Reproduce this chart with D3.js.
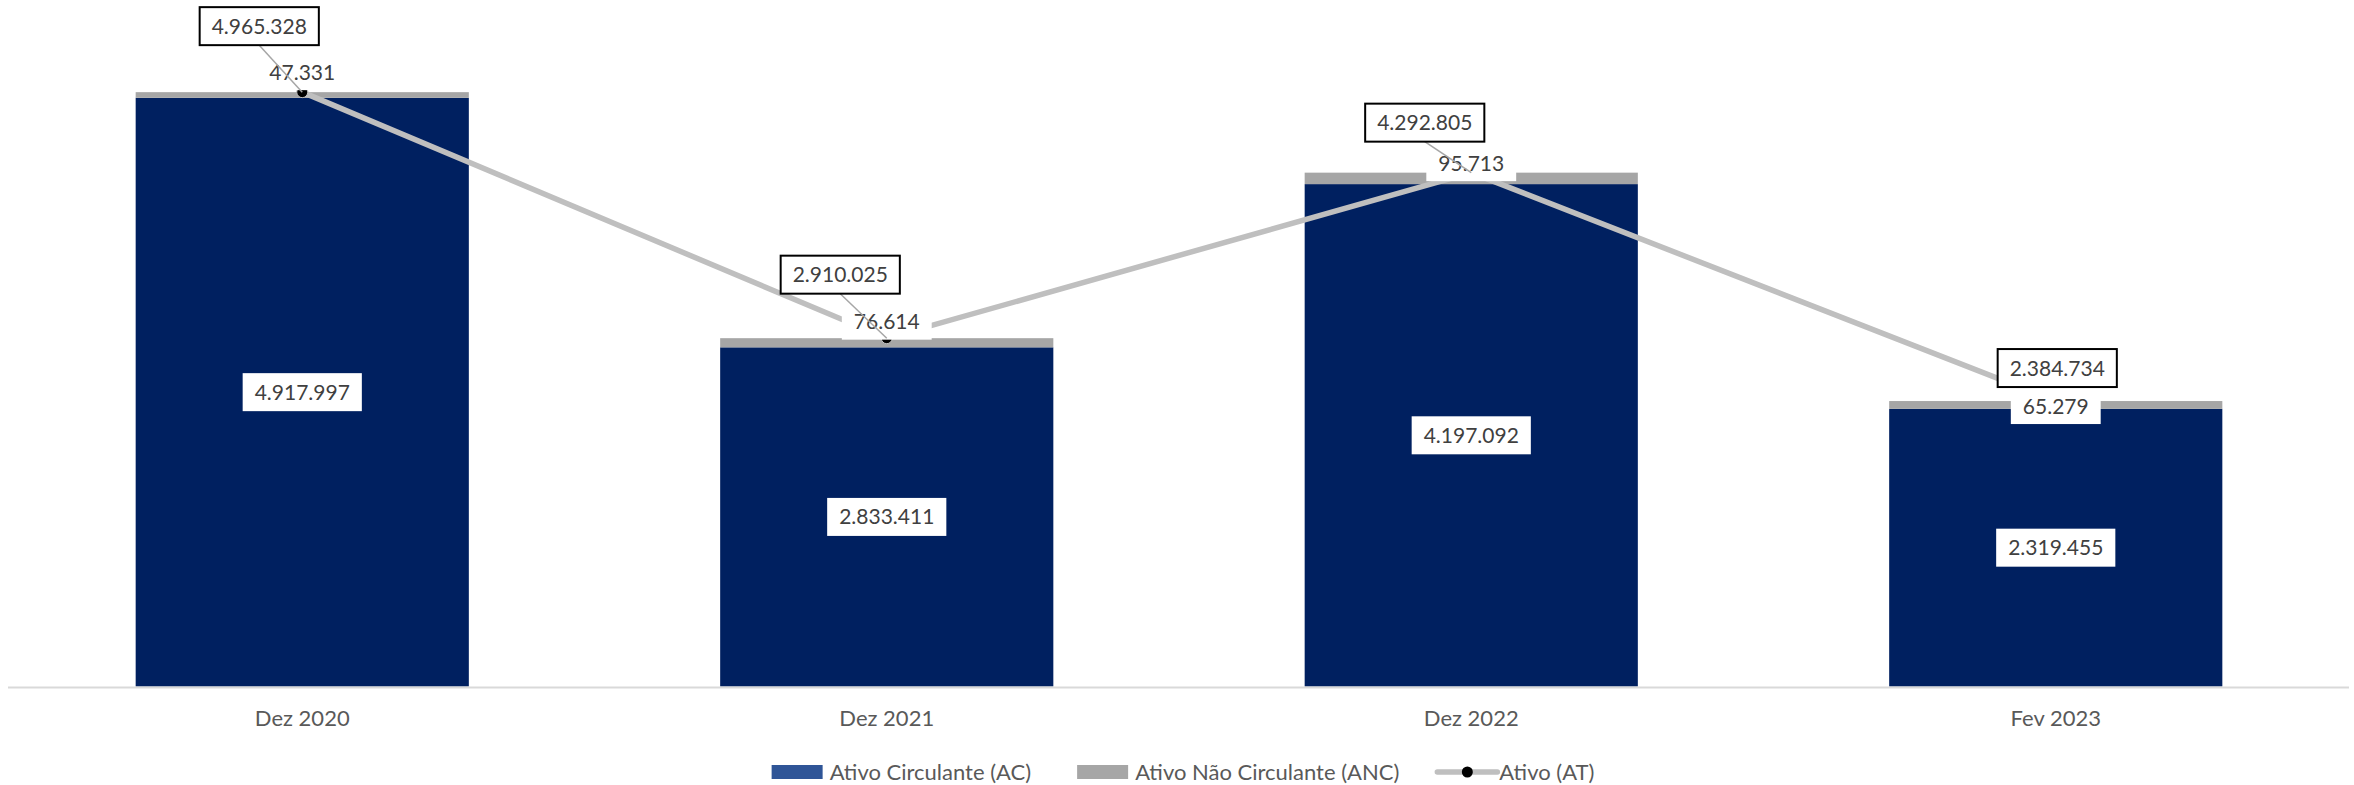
<!doctype html>
<html>
  <head>
    <meta charset="utf-8">
    <title>Ativo</title>
    <style>
      body { margin: 0; background: #fff; }
      text { font-family: Lato, "Open Sans", sans-serif; }
    </style>
  </head>
  <body>
    <svg width="2354" height="785"></svg>

  <script src="https://cdn.jsdelivr.net/npm/d3@7"></script>
  <script>
// Values.
var categories = ['Dez 2020', 'Dez 2021', 'Dez 2022', 'Fev 2023'];
var ativoCirculante = [4917997, 2833411, 4197092, 2319455];
var ativoNaoCirculante = [47331, 76614, 95713, 65279];
var ativoTotal = [4965328, 2910025, 4292805, 2384734];
var legendLabels = ['Ativo Circulante (AC)', 'Ativo Não Circulante (ANC)', 'Ativo (AT)'];

// Hand placed label offsets (as in the original workbook).
var atLabelOffset = [[-43, -66], [-46.5, -63.5], [-46.5, -50], [1.5, -33]];
var ancLabelDy = [-20, -16.5, -9.5, 5];
var showLeader = [true, true, true, false];

var svg = d3.select('svg'),
  width = +svg.attr('width'),
  height = +svg.attr('height');

var fmt = d3.formatLocale({decimal: ',', thousands: '.', grouping: [3], currency: ['R$', '']}).format(',d');

var x = d3.scaleBand().domain(categories).range([10, 2348]).paddingInner(0.43).paddingOuter(0.215);
var y = d3.scaleLinear().domain([0, 5000000]).range([686.5, 88]);

var rows = categories.map(function(c, i) {
  return {cat: c, ac: ativoCirculante[i], anc: ativoNaoCirculante[i], at: ativoTotal[i]};
});
var series = d3.stack().keys(['ac', 'anc'])(rows);
var colors = {ac: '#002060', anc: '#a6a6a6'};

// stacked bars
svg.append('g').selectAll('g')
  .data(series)
  .join('g')
  .attr('fill', function(s) { return colors[s.key]; })
  .selectAll('rect')
  .data(function(s) { return s; })
  .join('rect')
  .attr('x', function(d) { return x(d.data.cat); })
  .attr('width', x.bandwidth())
  .attr('y', function(d) { return y(d[1]); })
  .attr('height', function(d) { return y(d[0]) - y(d[1]); });

// category axis
var axis = svg.append('g')
  .attr('transform', 'translate(0,' + 687.5 + ')')
  .call(d3.axisBottom(x).tickSize(0).tickPadding(0));
axis.select('.domain').attr('stroke', '#d9d9d9').attr('stroke-width', 2)
  .attr('d', 'M8,0H2349');
axis.selectAll('text')
  .attr('y', 38.5)
  .attr('dy', null)
  .attr('fill', '#595959')
  .style('font-size', '22px')
  .style('font-family', 'Lato, sans-serif');

var cx = function(i) { return x(categories[i]) + x.bandwidth() / 2; };

// total line with markers
var line = d3.line()
  .x(function(d, i) { return cx(i); })
  .y(function(d) { return y(d); });
svg.append('path')
  .datum(ativoTotal)
  .attr('d', line)
  .attr('fill', 'none')
  .attr('stroke', '#bfbfbf')
  .attr('stroke-width', 5.5);
svg.append('g').selectAll('circle')
  .data(ativoTotal)
  .join('circle')
  .attr('cx', function(d, i) { return cx(i); })
  .attr('cy', function(d) { return y(d); })
  .attr('r', 5.5)
  .attr('fill', '#000')
  .attr('stroke', '#bfbfbf')
  .attr('stroke-width', 1);

// white boxed label helper
function boxLabel(g, txt, px, py, opts) {
  var t = g.append('text')
    .attr('x', px)
    .attr('y', py + 21 * 0.36)
    .attr('text-anchor', 'middle')
    .attr('fill', '#404040')
    .style('font-size', '21px')
    .text(txt);
  var w = t.node().getComputedTextLength() + 24;
  g.insert('rect', 'text')
    .attr('x', px - w / 2)
    .attr('y', py - opts.h / 2)
    .attr('width', w)
    .attr('height', opts.h)
    .attr('fill', '#fff')
    .attr('stroke', opts.border ? '#000' : 'none')
    .attr('stroke-width', 2);
  return {w: w};
}

// ANC labels
ativoNaoCirculante.forEach(function(v, i) {
  boxLabel(svg.append('g'), fmt(v), cx(i), y(ativoTotal[i]) + ancLabelDy[i], {h: 36});
});

// leader lines for the total labels
ativoTotal.forEach(function(v, i) {
  if (!showLeader[i]) return;
  var bx = cx(i) + atLabelOffset[i][0],
    by = y(v) + atLabelOffset[i][1] + 19;
  svg.append('line')
    .attr('x1', bx).attr('y1', by)
    .attr('x2', cx(i)).attr('y2', y(v))
    .attr('stroke', '#a6a6a6')
    .attr('stroke-width', 1.5);
});

// AT labels
ativoTotal.forEach(function(v, i) {
  boxLabel(svg.append('g'), fmt(v), cx(i) + atLabelOffset[i][0], y(v) + atLabelOffset[i][1], {h: 38, border: true});
});

// AC labels
ativoCirculante.forEach(function(v, i) {
  boxLabel(svg.append('g'), fmt(v), cx(i), (y(0) + y(v)) / 2, {h: 38});
});

// legend
var legend = svg.append('g');
var lx = 0, ly = 772;
legendLabels.forEach(function(lbl, i) {
  var g = legend.append('g');
  var symW = i < 2 ? 51 : 60;
  if (i < 2) {
    g.append('rect').attr('x', 0).attr('y', -7).attr('width', symW).attr('height', 14)
      .attr('fill', i === 0 ? '#2f5597' : '#a6a6a6');
  } else {
    g.append('line').attr('x1', 0).attr('x2', symW).attr('y1', 0).attr('y2', 0)
      .attr('stroke', '#bfbfbf').attr('stroke-width', 5.5).attr('stroke-linecap', 'round');
    g.append('circle').attr('cx', symW / 2).attr('cy', 0).attr('r', 5.5).attr('fill', '#000');
  }
  var t = g.append('text')
    .attr('x', symW + (i < 2 ? 7 : 2))
    .attr('y', 7.5)
    .attr('fill', '#595959')
    .style('font-size', '22px')
    .text(lbl);
  var w = symW + (i < 2 ? 7 : 2) + t.node().getComputedTextLength();
  g.attr('transform', 'translate(' + lx + ',' + ly + ')');
  lx += w + (i === 0 ? 46 : 38);
});
var legendW = lx - 38;
legend.attr('transform', 'translate(' + (1183 - legendW / 2) + ',0)');
  </script>
  </body>
</html>
